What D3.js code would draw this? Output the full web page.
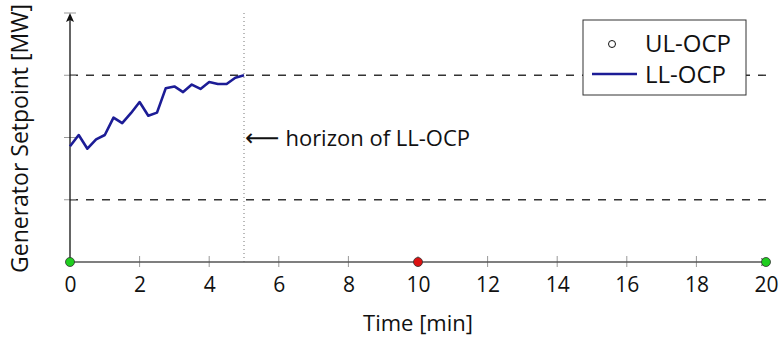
<!DOCTYPE html>
<html>
<head>
<meta charset="utf-8">
<script src="https://cdn.jsdelivr.net/npm/d3@7"></script>
<style>
  body { margin: 0; background: #fff; }
  text { font-family: "Open Sans", sans-serif; fill: #111; }
</style>
</head>
<body>
<script>
// LL-OCP trajectory, one point every 15 s up to its horizon
const llTime = [0, 0.25, 0.5, 0.75, 1, 1.25, 1.5, 1.75, 2, 2.25, 2.5,
  2.75, 3, 3.25, 3.5, 3.75, 4, 4.25, 4.5, 4.75, 5];
const llValue = [1.86, 2.04, 1.82, 1.97, 2.04, 2.32, 2.23, 2.39, 2.57, 2.35, 2.40,
  2.79, 2.82, 2.73, 2.85, 2.78, 2.89, 2.86, 2.86, 2.96, 3.0];

// UL-OCP solve instants
const ulTime = [0, 10, 20];
const ulValue = [0, 0, 0];
const ulStatus = ['ok', 'fail', 'ok'];

const xTicks = [0, 2, 4, 6, 8, 10, 12, 14, 16, 18, 20];
const yTicks = [1, 2, 3, 4];
const limits = [1, 3];
const horizon = 5;

const width = 781;
const height = 337;
const margin = { top: 13, right: 15, bottom: 75, left: 70 };

const x = d3.scaleLinear().domain([0, 20]).range([margin.left, width - margin.right]);
const y = d3.scaleLinear().domain([0, 4]).range([height - margin.bottom, margin.top]);

const svg = d3.select('body').append('svg')
  .attr('width', width)
  .attr('height', height);

// dashed limit lines
svg.selectAll('.limit')
  .data(limits)
  .enter().append('line')
  .attr('class', 'limit')
  .attr('x1', x(0)).attr('x2', x(20))
  .attr('y1', d => y(d)).attr('y2', d => y(d))
  .style('stroke', '#333')
  .style('stroke-width', 1.4)
  .style('stroke-dasharray', '8,8');

// horizon marker
svg.append('line')
  .attr('x1', x(horizon)).attr('x2', x(horizon))
  .attr('y1', y(4)).attr('y2', y(0))
  .style('stroke', '#777')
  .style('stroke-width', 1)
  .style('stroke-dasharray', '1,3');

// x axis
const xAxis = d3.axisBottom(x)
  .tickValues(xTicks)
  .tickSizeInner(0)
  .tickSizeOuter(0)
  .tickPadding(15);

const gx = svg.append('g')
  .attr('transform', `translate(0,${y(0)})`)
  .call(xAxis);
gx.select('.domain').remove();
gx.selectAll('text')
  .style('font-size', '21px')
  .style('font-family', '"Open Sans", sans-serif')
  .attr('fill', '#111');

svg.selectAll('.xtick')
  .data(xTicks.slice(1, -1))
  .enter().append('line')
  .attr('class', 'xtick')
  .attr('x1', d => x(d)).attr('x2', d => x(d))
  .attr('y1', y(0) - 6).attr('y2', y(0) + 5)
  .style('stroke', '#999')
  .style('stroke-width', 1);

svg.append('line')
  .attr('x1', x(0)).attr('x2', x(20))
  .attr('y1', y(0)).attr('y2', y(0))
  .style('stroke', '#555')
  .style('stroke-width', 1.3);

svg.append('path')
  .attr('d', `M${x(20) + 4},${y(0)} l-9,-4 l2,4 l-2,4 z`)
  .style('fill', '#222');

// y axis
svg.selectAll('.ytick')
  .data(yTicks)
  .enter().append('line')
  .attr('class', 'ytick')
  .attr('x1', x(0) - 6).attr('x2', x(0) + 6)
  .attr('y1', d => y(d)).attr('y2', d => y(d))
  .style('stroke', '#999')
  .style('stroke-width', 1);

svg.append('line')
  .attr('x1', x(0)).attr('x2', x(0))
  .attr('y1', y(0)).attr('y2', y(4) + 2)
  .style('stroke', '#111')
  .style('stroke-width', 1.3);

svg.append('path')
  .attr('d', `M${x(0)},${y(4)} l-4,9 l4,-2 l4,2 z`)
  .style('fill', '#111');

// LL-OCP line
const line = d3.line()
  .x((d, i) => x(llTime[i]))
  .y(d => y(d));

svg.append('path')
  .datum(llValue)
  .attr('d', line)
  .style('fill', 'none')
  .style('stroke', '#1c1c96')
  .style('stroke-width', 2.6)
  .style('stroke-linejoin', 'round');

// UL-OCP points
const statusColor = { ok: '#1fce1f', fail: '#dd1111' };
svg.selectAll('.ul')
  .data(ulValue)
  .enter().append('circle')
  .attr('class', 'ul')
  .attr('cx', (d, i) => x(ulTime[i]))
  .attr('cy', d => y(d))
  .attr('r', 4.5)
  .style('fill', (d, i) => statusColor[ulStatus[i]])
  .style('stroke', '#333')
  .style('stroke-width', 0.8);

// annotation
svg.append('text')
  .attr('x', x(horizon) + 1)
  .attr('y', y(2) + 8)
  .style('font-size', '22px')
  .call(t => {
    t.append('tspan').style('font-family', '"DejaVu Sans"').style('font-size', '24px').text('\u27F5');
    t.append('tspan').attr('dx', 6).text('horizon of LL-OCP');
  });

// axis titles
svg.append('text')
  .attr('x', x(10))
  .attr('y', 331)
  .attr('text-anchor', 'middle')
  .style('font-size', '22px')
  .text('Time [min]');

svg.append('text')
  .attr('transform', `translate(28,${y(2) + 1}) rotate(-90)`)
  .attr('text-anchor', 'middle')
  .style('font-size', '23px')
  .text('Generator Setpoint [MW]');

// legend
const legend = svg.append('g').attr('transform', 'translate(583,20)');
legend.append('rect')
  .attr('width', 163).attr('height', 75)
  .style('fill', '#fff')
  .style('stroke', '#333')
  .style('stroke-width', 1);
legend.append('circle')
  .attr('cx', 29).attr('cy', 24).attr('r', 3.5)
  .style('fill', '#fff')
  .style('stroke', '#111')
  .style('stroke-width', 1);
legend.append('text')
  .attr('x', 62).attr('y', 32)
  .style('font-size', '24px')
  .text('UL-OCP');
legend.append('line')
  .attr('x1', 9).attr('x2', 54)
  .attr('y1', 54).attr('y2', 54)
  .style('stroke', '#1c1c96')
  .style('stroke-width', 2.6);
legend.append('text')
  .attr('x', 62).attr('y', 63)
  .style('font-size', '24px')
  .text('LL-OCP');
</script>
</body>
</html>
